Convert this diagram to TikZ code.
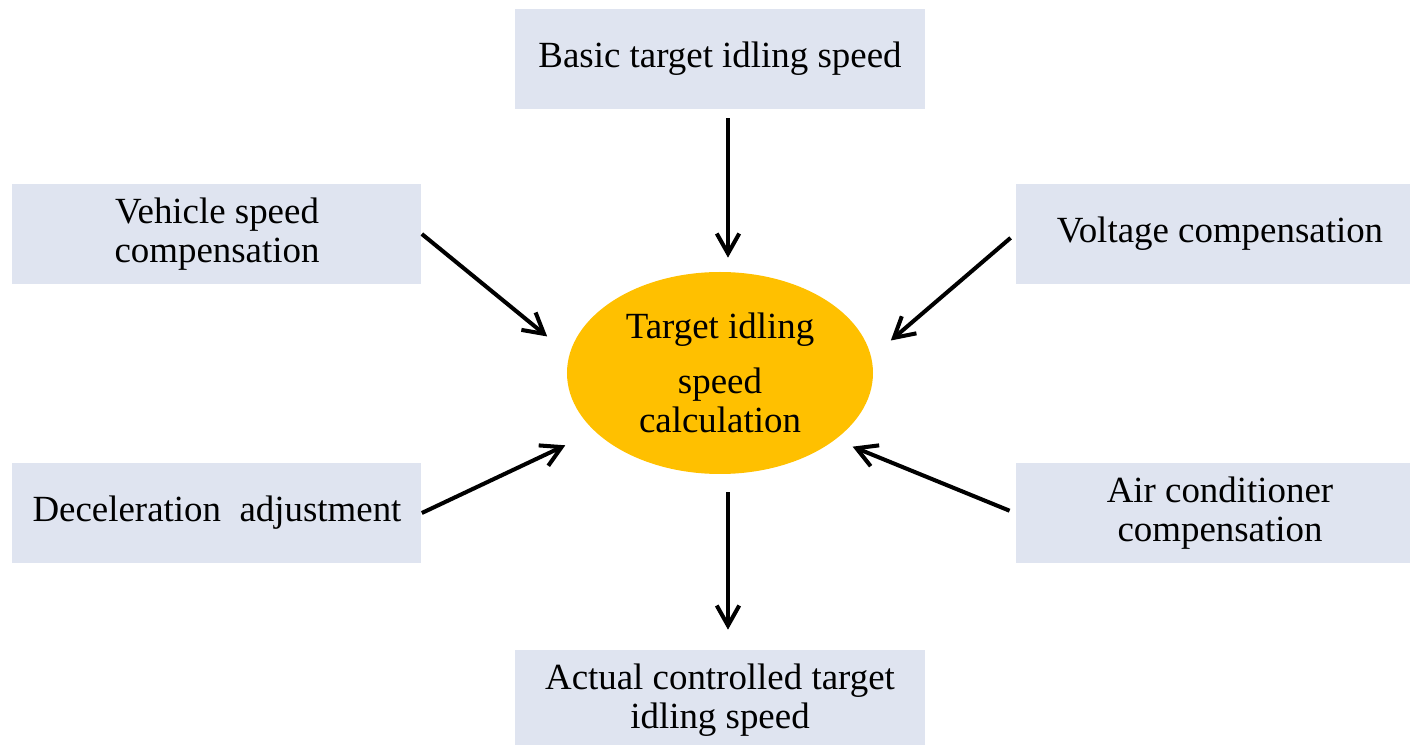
\documentclass[tikz,border=0pt]{standalone}
\usepackage{fontspec}
\setmainfont{Liberation Serif}
\usepackage{xcolor}
\usepackage{tikz}
\usetikzlibrary{shapes.geometric,arrows.meta}

\definecolor{boxfill}{HTML}{DFE4F0}
\definecolor{calcfill}{HTML}{FFC000}

\begin{document}
\begin{tikzpicture}[
   inbox/.style={fill=boxfill, minimum width=8.18cm, minimum height=2cm,
      inner sep=0pt, align=center, font=\fontsize{21}{22}\selectfont},
   calcnode/.style={ellipse, fill=calcfill, minimum width=6.12cm,
      minimum height=4.04cm, inner sep=0pt, align=center,
      font=\fontsize{21}{22}\selectfont},
   flow/.style={line width=2.3pt, -{Straight Barb[length=4mm,width=4.5mm]}},
   ]
   % page frame, the right hand boxes run off the edge
   \clip (-14.4,7.46) rectangle (13.8,-7.44);

   % centre
   \node[calcnode] (calc) at (0,0) {Target idling\\[0.32cm]speed\\calculation};

   % inputs and output
   \node[inbox] (basic)  at (0,6.28)      {Basic target idling speed};
   \node[inbox] (vsc)    at (-10.06,2.78) {Vehicle speed\\compensation};
   \node[inbox] (volt)   at (10.0,2.78)   {Voltage compensation};
   \node[inbox] (decel)  at (-10.06,-2.8) {Deceleration\ \ adjustment};
   \node[inbox] (aircon) at (10.0,-2.8)   {Air conditioner\\compensation};
   \node[inbox] (actual) at (0,-6.54)     {Actual controlled target\\idling speed};

   % arrows
   \draw[flow, shorten <=0.18cm, shorten >=0.28cm]
      ([xshift=1.6mm]basic.south) -- ([xshift=1.6mm]calc.north);
   \draw[flow, shorten >=0.57cm] (vsc.east) -- (calc.173);
   \draw[flow, shorten <=0.12cm, shorten >=0.51cm] (volt.west) -- (calc.6.5);
   \draw[flow, shorten >=0.65cm] (decel.east) -- (calc.205);
   \draw[flow, shorten <=0.12cm, shorten >=0.37cm] (aircon.west) -- (calc.330);
   \draw[flow, shorten <=0.36cm, shorten >=0.4cm]
      ([xshift=1.6mm]calc.south) -- ([xshift=1.6mm]actual.north);
\end{tikzpicture}
\end{document}
